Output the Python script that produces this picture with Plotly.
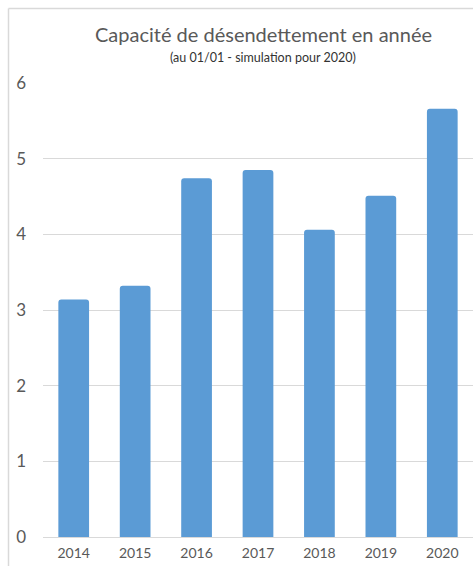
import plotly.graph_objects as go

years = ["2014", "2015", "2016", "2017", "2018", "2019", "2020"]
capacity = [3.14, 3.32, 4.74, 4.85, 4.06, 4.51, 5.66]
y_ticks = [0, 1, 2, 3, 4, 5, 6]

W, H = 473, 566
L, R, T, B = 43, 0, 83, 29

fig = go.Figure(
    go.Bar(
        x=years,
        y=capacity,
        marker=dict(color="#5B9BD5", line=dict(width=0)),
        hoverinfo="x+y",
    )
)

# light frame around the chart area (left and top edges visible)
def px_x(p):
    return (p - L) / (W - L - R)

def px_y(p):
    return 1 - (p - T) / (H - T - B)

frame = "#D9D9D9"
fig.add_shape(type="line", xref="paper", yref="paper",
              x0=px_x(8.5), x1=px_x(8.5), y0=px_y(8.5), y1=px_y(H + 5),
              line=dict(color=frame, width=1.5))
fig.add_shape(type="line", xref="paper", yref="paper",
              x0=px_x(8.5), x1=px_x(W + 5), y0=px_y(8.5), y1=px_y(8.5),
              line=dict(color=frame, width=1.5))

fig.add_annotation(
    text="Capacité de désendettement en année",
    xref="paper", yref="paper", x=px_x(263), y=px_y(34),
    showarrow=False, xanchor="center", yanchor="middle",
    font=dict(family="Lato", size=20, color="#595959"),
)
fig.add_annotation(
    text="(au 01/01 - simulation pour 2020)",
    xref="paper", yref="paper", x=px_x(263), y=px_y(57),
    showarrow=False, xanchor="center", yanchor="middle",
    font=dict(family="Lato", size=12.5, color="#333333"),
)

fig.update_layout(
    width=W, height=H,
    margin=dict(l=L, r=R, t=T, b=B),
    paper_bgcolor="white",
    plot_bgcolor="white",
    bargap=0.5,
    barcornerradius=3,
    showlegend=False,
    font=dict(family="Lato", color="#595959"),
)
fig.update_xaxes(
    type="category",
    showgrid=False, showline=False, zeroline=False, ticks="",
    tickfont=dict(size=14, color="#595959"),
    ticklabelstandoff=6,
)
fig.update_yaxes(
    range=[0, 6],
    tickvals=y_ticks,
    showgrid=True, gridcolor="#D9D9D9", gridwidth=1.2,
    zeroline=True, zerolinecolor="#D9D9D9", zerolinewidth=1.2,
    showline=False, ticks="",
    tickfont=dict(size=17, color="#595959"),
    ticklabelstandoff=16,
)

fig.write_html("out.html")
